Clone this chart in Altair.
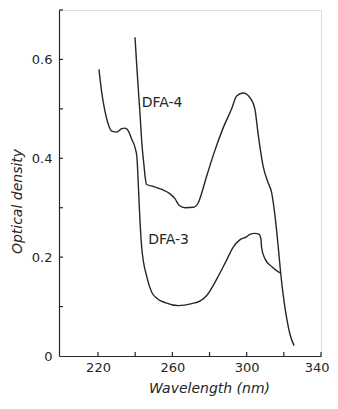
import altair as alt
import pandas as pd

# DFA-3 spectrum (wavelength nm, optical density)
dfa3_x = [220.5, 222.0, 223.8, 225.6, 227.4, 230.1, 232.8, 234.5, 236.4, 238.2, 239.9,
          240.9, 241.8, 242.6, 243.5, 246.2, 248.9, 251.6, 256.1, 263.3, 270.5, 274.8,
          278.4, 283.8, 289.2, 292.7, 296.3, 299.9, 301.7, 304.4, 306.7, 307.7, 308.0,
          309.8, 313.4, 317.9]
dfa3_y = [0.580, 0.533, 0.494, 0.468, 0.455, 0.453, 0.460, 0.461, 0.455, 0.438, 0.422,
          0.403, 0.337, 0.272, 0.220, 0.161, 0.129, 0.117, 0.108, 0.102, 0.106, 0.111,
          0.122, 0.155, 0.194, 0.220, 0.235, 0.241, 0.246, 0.248, 0.246, 0.236, 0.220,
          0.197, 0.181, 0.168]

# DFA-4 spectrum
dfa4_x = [239.9, 240.8, 241.8, 242.7, 243.5, 244.8, 245.3, 246.2, 249.8, 254.3, 258.8,
          261.5, 263.6, 266.9, 271.4, 274.1, 274.8, 278.4, 282.9, 287.3, 291.9, 294.6,
          298.1, 301.7, 304.4, 306.2, 308.9, 311.6, 313.4, 315.2, 317.0, 318.3, 319.7,
          321.5, 323.3, 325.5]
dfa4_y = [0.645, 0.590, 0.533, 0.484, 0.435, 0.383, 0.364, 0.347, 0.343, 0.337, 0.328,
          0.318, 0.305, 0.300, 0.301, 0.311, 0.318, 0.363, 0.416, 0.461, 0.500, 0.526,
          0.532, 0.523, 0.500, 0.448, 0.383, 0.350, 0.331, 0.285, 0.220, 0.168, 0.122,
          0.077, 0.044, 0.021]

label_text = ["DFA-4", "DFA-3"]
label_x = [243.5, 247.0]
label_y = [0.5035, 0.2276]

x_tick_values = [220, 240, 260, 280, 300, 320, 340]
x_label_values = [220, 260, 300, 340]
y_tick_values = [0.1, 0.2, 0.3, 0.4, 0.5, 0.6, 0.7]
y_label_values = [0, 0.2, 0.4, 0.6]

rows = []
for name, xs, ys in [("DFA-3", dfa3_x, dfa3_y), ("DFA-4", dfa4_x, dfa4_y)]:
    for i, (a, b) in enumerate(zip(xs, ys)):
        rows.append({"series": name, "wl": a, "od": b, "order": i})
lines_df = pd.DataFrame(rows)
labels_df = pd.DataFrame({"text": label_text, "wl": label_x, "od": label_y})
xt_df = pd.DataFrame({"wl": x_tick_values})
yt_df = pd.DataFrame({"od": y_tick_values})

INK = "#262626"
W, H = 262, 346
xscale = alt.Scale(domain=[199, 340], nice=False, zero=False)
yscale = alt.Scale(domain=[0, 0.7], nice=False)

x_axis = alt.Axis(
    values=x_label_values, ticks=False, grid=False, domainColor=INK, domainWidth=1.2,
    labelFont="DejaVu Sans", labelFontSize=13, labelColor=INK, labelPadding=5,
    labelFlush=True, labelFlushOffset=8,
    title="Wavelength (nm)", titleFont="DejaVu Sans", titleFontSize=14,
    titleFontStyle="italic", titleFontWeight="normal", titleColor=INK,
    titleX=150, titleY=36, titleBaseline="alphabetic", titleAlign="center")
y_axis = alt.Axis(
    values=y_label_values, ticks=False, grid=False, domainColor=INK, domainWidth=1.2,
    labelExpr="datum.value == 0 ? '0' : format(datum.value, '.1f')",
    labelFont="DejaVu Sans", labelFontSize=13, labelColor=INK, labelPadding=7,
    title="Optical density", titleFont="DejaVu Sans", titleFontSize=14,
    titleFontStyle="italic", titleFontWeight="normal", titleColor=INK,
    titleX=-38, titleY=191, titleBaseline="alphabetic", titleAlign="center",
    titleAngle=270)

lines = alt.Chart(lines_df).mark_line(
    interpolate="monotone", strokeWidth=1.4, color=INK
).encode(
    x=alt.X("wl:Q", scale=xscale, axis=x_axis),
    y=alt.Y("od:Q", scale=yscale, axis=y_axis),
    detail="series:N",
    order="order:Q",
)

labels = alt.Chart(labels_df).mark_text(
    align="left", baseline="alphabetic", font="DejaVu Sans", fontSize=14, color=INK
).encode(
    x=alt.X("wl:Q", scale=xscale, axis=x_axis),
    y=alt.Y("od:Q", scale=yscale, axis=y_axis),
    text="text:N",
)

xticks = alt.Chart(xt_df).mark_rule(color=INK, strokeWidth=1.2).encode(
    x=alt.X("wl:Q", scale=xscale, axis=x_axis),
    y=alt.value(H),
    y2=alt.value(H - 4),
)

yticks = alt.Chart(yt_df).mark_rule(color=INK, strokeWidth=1.2).encode(
    y=alt.Y("od:Q", scale=yscale, axis=y_axis),
    x=alt.value(0),
    x2=alt.value(4),
)

chart = alt.layer(lines, labels, xticks, yticks).properties(
    width=W, height=H,
    autosize=alt.AutoSizeParams(type="none"),
    padding={"left": 51, "top": 2, "right": 9, "bottom": 40},
).configure_view(stroke=None).configure(background="white")

chart.save("out.html", embed_options={"renderer": "svg", "actions": False})
